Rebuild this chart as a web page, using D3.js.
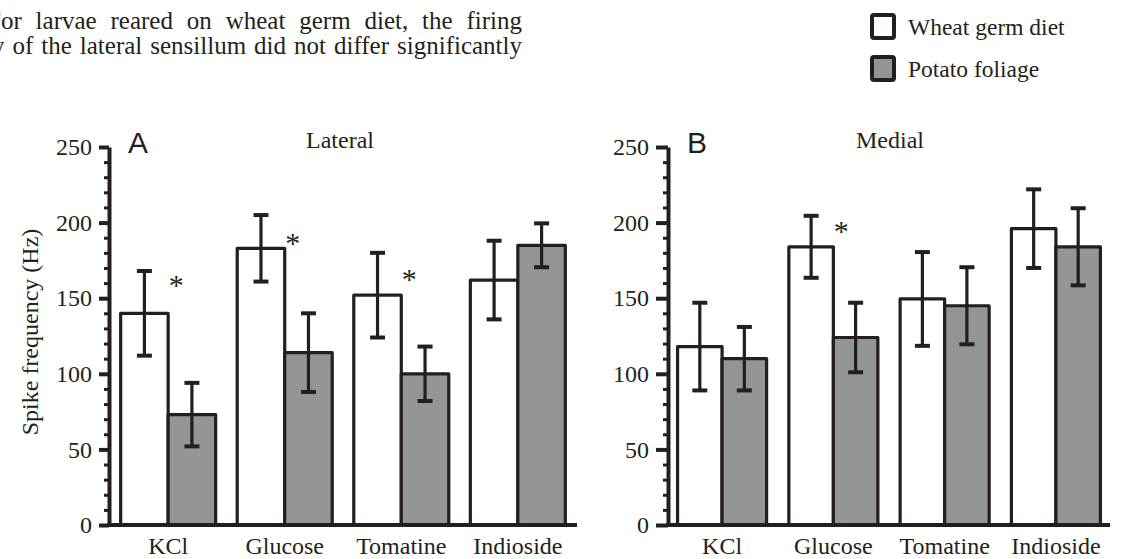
<!DOCTYPE html>
<html>
<head>
<meta charset="utf-8">
<script src="https://cdn.jsdelivr.net/npm/d3@7.9.0/dist/d3.min.js"></script>
<style>
  body { margin: 0; background: #fff; }
  svg { display: block; font-family: "Liberation Serif", "Times New Roman", serif; }
</style>
</head>
<body>
<svg id="chart" width="1126" height="559"></svg>
<script>
// data
const categories = ['KCl', 'Glucose', 'Tomatine', 'Indioside'];
const series = ['Wheat germ diet', 'Potato foliage'];
const yTicks = [0, 50, 100, 150, 200, 250];

const lateralWheat = [140, 183, 152, 162];
const lateralWheatErr = [28, 22, 28, 26];
const lateralPotato = [73, 114, 100, 185];
const lateralPotatoErr = [21, 26, 18, 14.5];

const medialWheat = [118, 184, 149.5, 196];
const medialWheatErr = [29, 20.5, 31, 26];
const medialPotato = [110, 124, 145, 184];
const medialPotatoErr = [21, 23, 25.5, 25.5];

// significance marks: category and height of the star
const lateralStars = ['KCl', 'Glucose', 'Tomatine'];
const lateralStarY = [162, 190, 166];
const medialStars = ['Glucose'];
const medialStarY = [198];

const textLines = [
  'For larvae reared on wheat germ diet, the firing',
  'y of the lateral sensillum did not differ significantly'
];

const ink = '#231f20';
const grey = '#939598';
const fills = ['#ffffff', grey];
const fs = 24;

const svg = d3.select('#chart');

// bits of running text above the figure (justified)
const lineStart = [-13, -8];
const lineBase = [29, 54];
textLines.forEach((t, i) => {
  const el = svg.append('text')
    .attr('x', lineStart[i]).attr('y', lineBase[i])
    .attr('font-size', 25).attr('fill', ink)
    .text(t);
  const len = el.node().getComputedTextLength();
  const spaces = t.split(' ').length - 1;
  const target = 522 - lineStart[i];
  el.attr('word-spacing', (target - len) / spaces);
});

// legend
const legend = svg.append('g').attr('transform', 'translate(872,15)');
series.forEach((s, i) => {
  const g = legend.append('g').attr('transform', `translate(0,${i * 42})`);
  g.append('rect')
    .attr('x', 0).attr('y', 0).attr('width', 22).attr('height', 23)
    .attr('rx', 2)
    .attr('fill', fills[i]).attr('stroke', ink).attr('stroke-width', 4);
  g.append('text')
    .attr('x', 36).attr('y', 20)
    .attr('font-size', 23.5).attr('fill', ink)
    .text(s);
});

const y = d3.scaleLinear().domain([0, 250]).range([525, 147]);

function drawPanel(opt) {
  const g = svg.append('g');
  const x = d3.scaleBand().domain(categories)
    .range([opt.x0, opt.x1]).paddingInner(opt.pi).paddingOuter(opt.po);
  const xs = d3.scaleBand().domain(series).range([0, x.bandwidth()]);

  const rows = categories.map((c, i) => [
    { cat: c, s: series[0], v: opt.wheat[i], e: opt.wheatErr[i] },
    { cat: c, s: series[1], v: opt.potato[i], e: opt.potatoErr[i] }
  ]).flat();

  g.selectAll('rect.bar').data(rows).join('rect')
    .attr('class', 'bar')
    .attr('x', d => x(d.cat) + xs(d.s))
    .attr('y', d => y(d.v))
    .attr('width', xs.bandwidth())
    .attr('height', d => y(0) - y(d.v))
    .attr('fill', d => fills[series.indexOf(d.s)])
    .attr('stroke', ink).attr('stroke-width', 3.2)
    .attr('stroke-linejoin', 'round');

  const err = g.selectAll('g.err').data(rows).join('g')
    .attr('class', 'err')
    .attr('transform', d => `translate(${x(d.cat) + xs(d.s) + xs.bandwidth() / 2},0)`)
    .attr('stroke', ink);
  err.append('line')
    .attr('y1', d => y(d.v + d.e)).attr('y2', d => y(d.v - d.e))
    .attr('stroke-width', 3.2);
  err.append('line')
    .attr('x1', -7.5).attr('x2', 7.5)
    .attr('y1', d => y(d.v + d.e)).attr('y2', d => y(d.v + d.e))
    .attr('stroke-width', 4);
  err.append('line')
    .attr('x1', -7.5).attr('x2', 7.5)
    .attr('y1', d => y(d.v - d.e)).attr('y2', d => y(d.v - d.e))
    .attr('stroke-width', 4);

  // stars
  opt.stars.forEach((c, i) => {
    g.append('text')
      .attr('x', x(c) + xs.bandwidth() + 8)
      .attr('y', y(opt.starY[i]) + 15)
      .attr('text-anchor', 'middle')
      .attr('font-size', 30).attr('fill', ink)
      .text('*');
  });

  // y axis: major and minor ticks
  const minor = d3.range(0, 251, 10).filter(d => d % 50);
  const yMinor = g.append('g').attr('transform', `translate(${opt.x0},0)`)
    .call(d3.axisLeft(y).tickValues(minor).tickSize(5).tickFormat(''));
  yMinor.select('.domain').remove();
  yMinor.selectAll('line').attr('stroke', ink).attr('stroke-width', 3);

  const yAxis = g.append('g').attr('transform', `translate(${opt.x0},0)`)
    .call(d3.axisLeft(y).tickValues(yTicks).tickSize(opt.tick).tickSizeOuter(0).tickPadding(7));
  yAxis.select('.domain').attr('stroke', ink).attr('stroke-width', 4);
  yAxis.selectAll('.tick line').attr('stroke', ink).attr('stroke-width', 4);
  yAxis.selectAll('.tick text')
    .attr('font-family', '"Liberation Serif", "Times New Roman", serif')
    .attr('font-size', fs).attr('fill', ink);

  // baseline
  g.append('line')
    .attr('x1', opt.x0 - 2).attr('x2', opt.x1)
    .attr('y1', y(0)).attr('y2', y(0))
    .attr('stroke', ink).attr('stroke-width', 4);

  // category labels
  g.selectAll('text.cat').data(categories).join('text')
    .attr('class', 'cat')
    .attr('x', d => x(d) + x.bandwidth() / 2)
    .attr('y', 554)
    .attr('text-anchor', 'middle')
    .attr('font-size', fs).attr('fill', ink)
    .text(d => d);

  // panel letter and title
  g.append('text')
    .attr('x', opt.x0 + 19).attr('y', 153)
    .attr('font-family', '"Liberation Sans", Arial, sans-serif')
    .attr('font-size', 30).attr('fill', ink)
    .text(opt.letter);
  g.append('text')
    .attr('x', opt.titleX).attr('y', 148)
    .attr('text-anchor', 'middle')
    .attr('font-size', fs).attr('fill', ink)
    .text(opt.title);
}

drawPanel({
  x0: 109, x1: 577, pi: 0.185, po: 0.1, tick: 10,
  wheat: lateralWheat, wheatErr: lateralWheatErr,
  potato: lateralPotato, potatoErr: lateralPotatoErr,
  stars: lateralStars, starY: lateralStarY,
  letter: 'A', title: 'Lateral', titleX: 340
});

drawPanel({
  x0: 668, x1: 1110, pi: 0.2, po: 0.086, tick: 12,
  wheat: medialWheat, wheatErr: medialWheatErr,
  potato: medialPotato, potatoErr: medialPotatoErr,
  stars: medialStars, starY: medialStarY,
  letter: 'B', title: 'Medial', titleX: 890
});

// y axis title
svg.append('text')
  .attr('transform', 'translate(38,332) rotate(-90)')
  .attr('text-anchor', 'middle')
  .attr('font-size', fs).attr('fill', ink)
  .text('Spike frequency (Hz)');
</script>
</body>
</html>
